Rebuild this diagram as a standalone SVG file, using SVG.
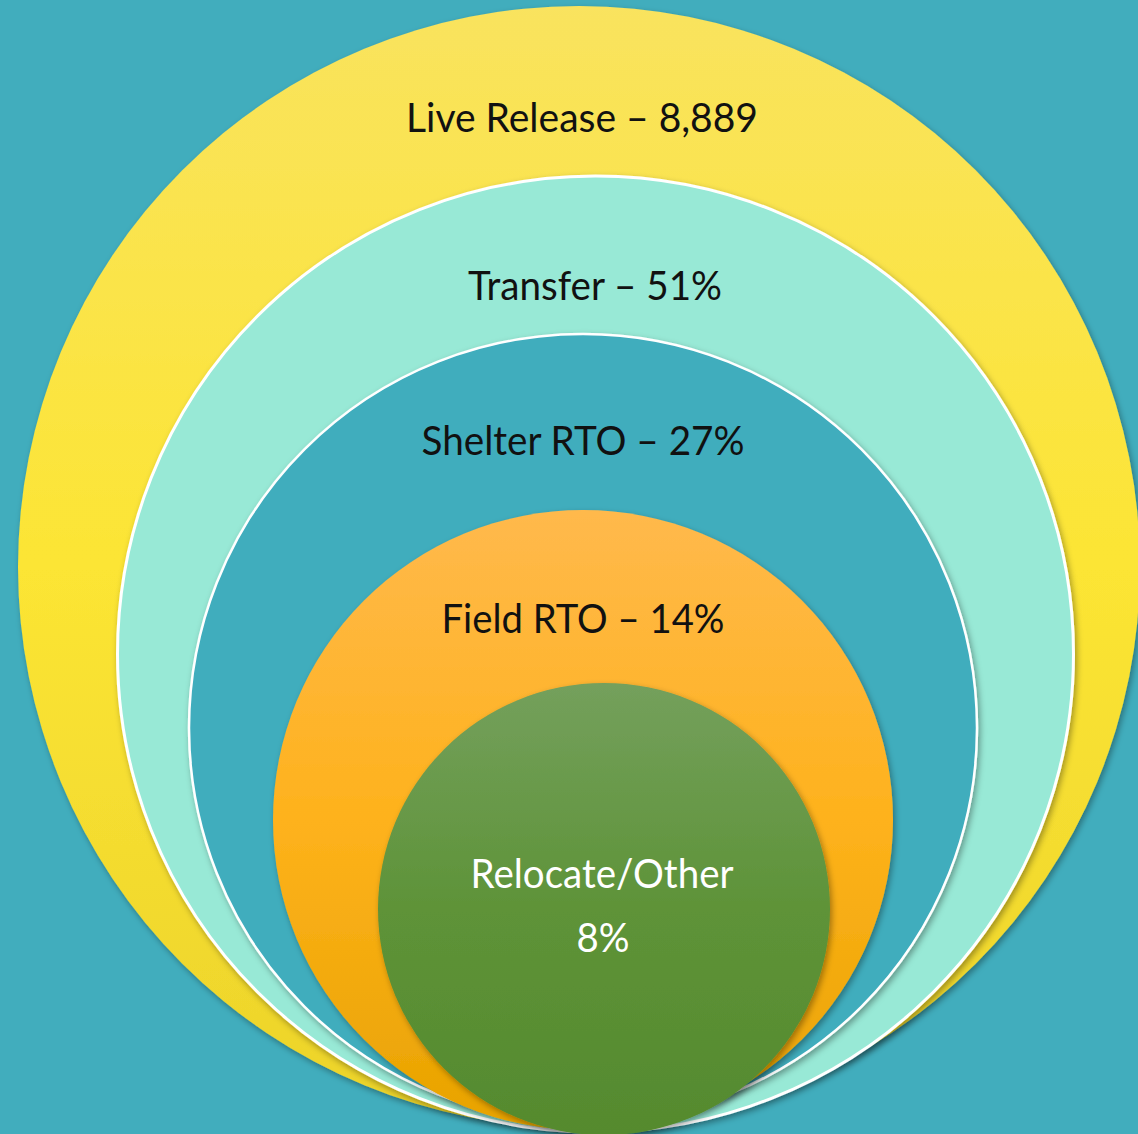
<svg xmlns="http://www.w3.org/2000/svg" width="1138" height="1134" viewBox="0 0 1138 1134">
<defs>
<linearGradient id="gy" x1="0" y1="0" x2="0" y2="1">
<stop offset="0" stop-color="#F9E35E"/>
<stop offset="0.5" stop-color="#FCE534"/>
<stop offset="1" stop-color="#ECD32A"/>
</linearGradient>
<linearGradient id="go" x1="0" y1="0" x2="0" y2="1">
<stop offset="0" stop-color="#FFB94C"/>
<stop offset="0.5" stop-color="#FEB21C"/>
<stop offset="1" stop-color="#E8A300"/>
</linearGradient>
<linearGradient id="gg" x1="0" y1="0" x2="0" y2="1">
<stop offset="0" stop-color="#74A05C"/>
<stop offset="0.5" stop-color="#5E9338"/>
<stop offset="1" stop-color="#558A2E"/>
</linearGradient>
<filter id="sh" x="-10%" y="-10%" width="120%" height="120%">
<feDropShadow dx="2" dy="3" stdDeviation="3" flood-color="#000" flood-opacity="0.35"/>
</filter>
</defs>
<style>
.lbl{font-family:"Lato","Open Sans","Liberation Sans",sans-serif;font-size:40px;text-anchor:middle;fill:#111}
.w{fill:#fff}
</style>
<rect width="1138" height="1134" fill="#41ADBD"/>
<g id="live-release">
<circle cx="579" cy="567" r="561" fill="url(#gy)" filter="url(#sh)"/>
<text class="lbl" x="582" y="132" textLength="352" lengthAdjust="spacingAndGlyphs">Live Release – 8,889</text>
</g>
<g id="transfer">
<circle cx="595.5" cy="654" r="478" fill="#98E9D6" stroke="#fff" stroke-width="3" filter="url(#sh)"/>
<text class="lbl" x="595" y="300" textLength="254" lengthAdjust="spacingAndGlyphs">Transfer – 51%</text>
</g>
<g id="shelter-rto">
<circle cx="583" cy="728" r="394" fill="#41ADBD" stroke="#fff" stroke-width="2.5" filter="url(#sh)"/>
<text class="lbl" x="583" y="455" textLength="323" lengthAdjust="spacingAndGlyphs">Shelter RTO – 27%</text>
</g>
<g id="field-rto">
<circle cx="583" cy="820" r="310" fill="url(#go)" filter="url(#sh)"/>
<text class="lbl" x="583" y="633" textLength="283" lengthAdjust="spacingAndGlyphs">Field RTO – 14%</text>
</g>
<g id="relocate-other">
<circle cx="604" cy="909" r="226" fill="url(#gg)" filter="url(#sh)"/>
<text class="lbl w" x="602" y="888" textLength="263" lengthAdjust="spacingAndGlyphs">Relocate/Other</text>
<text class="lbl w" x="603" y="952" textLength="53" lengthAdjust="spacingAndGlyphs">8%</text>
</g>
<g id="connectors"/>
</svg>
